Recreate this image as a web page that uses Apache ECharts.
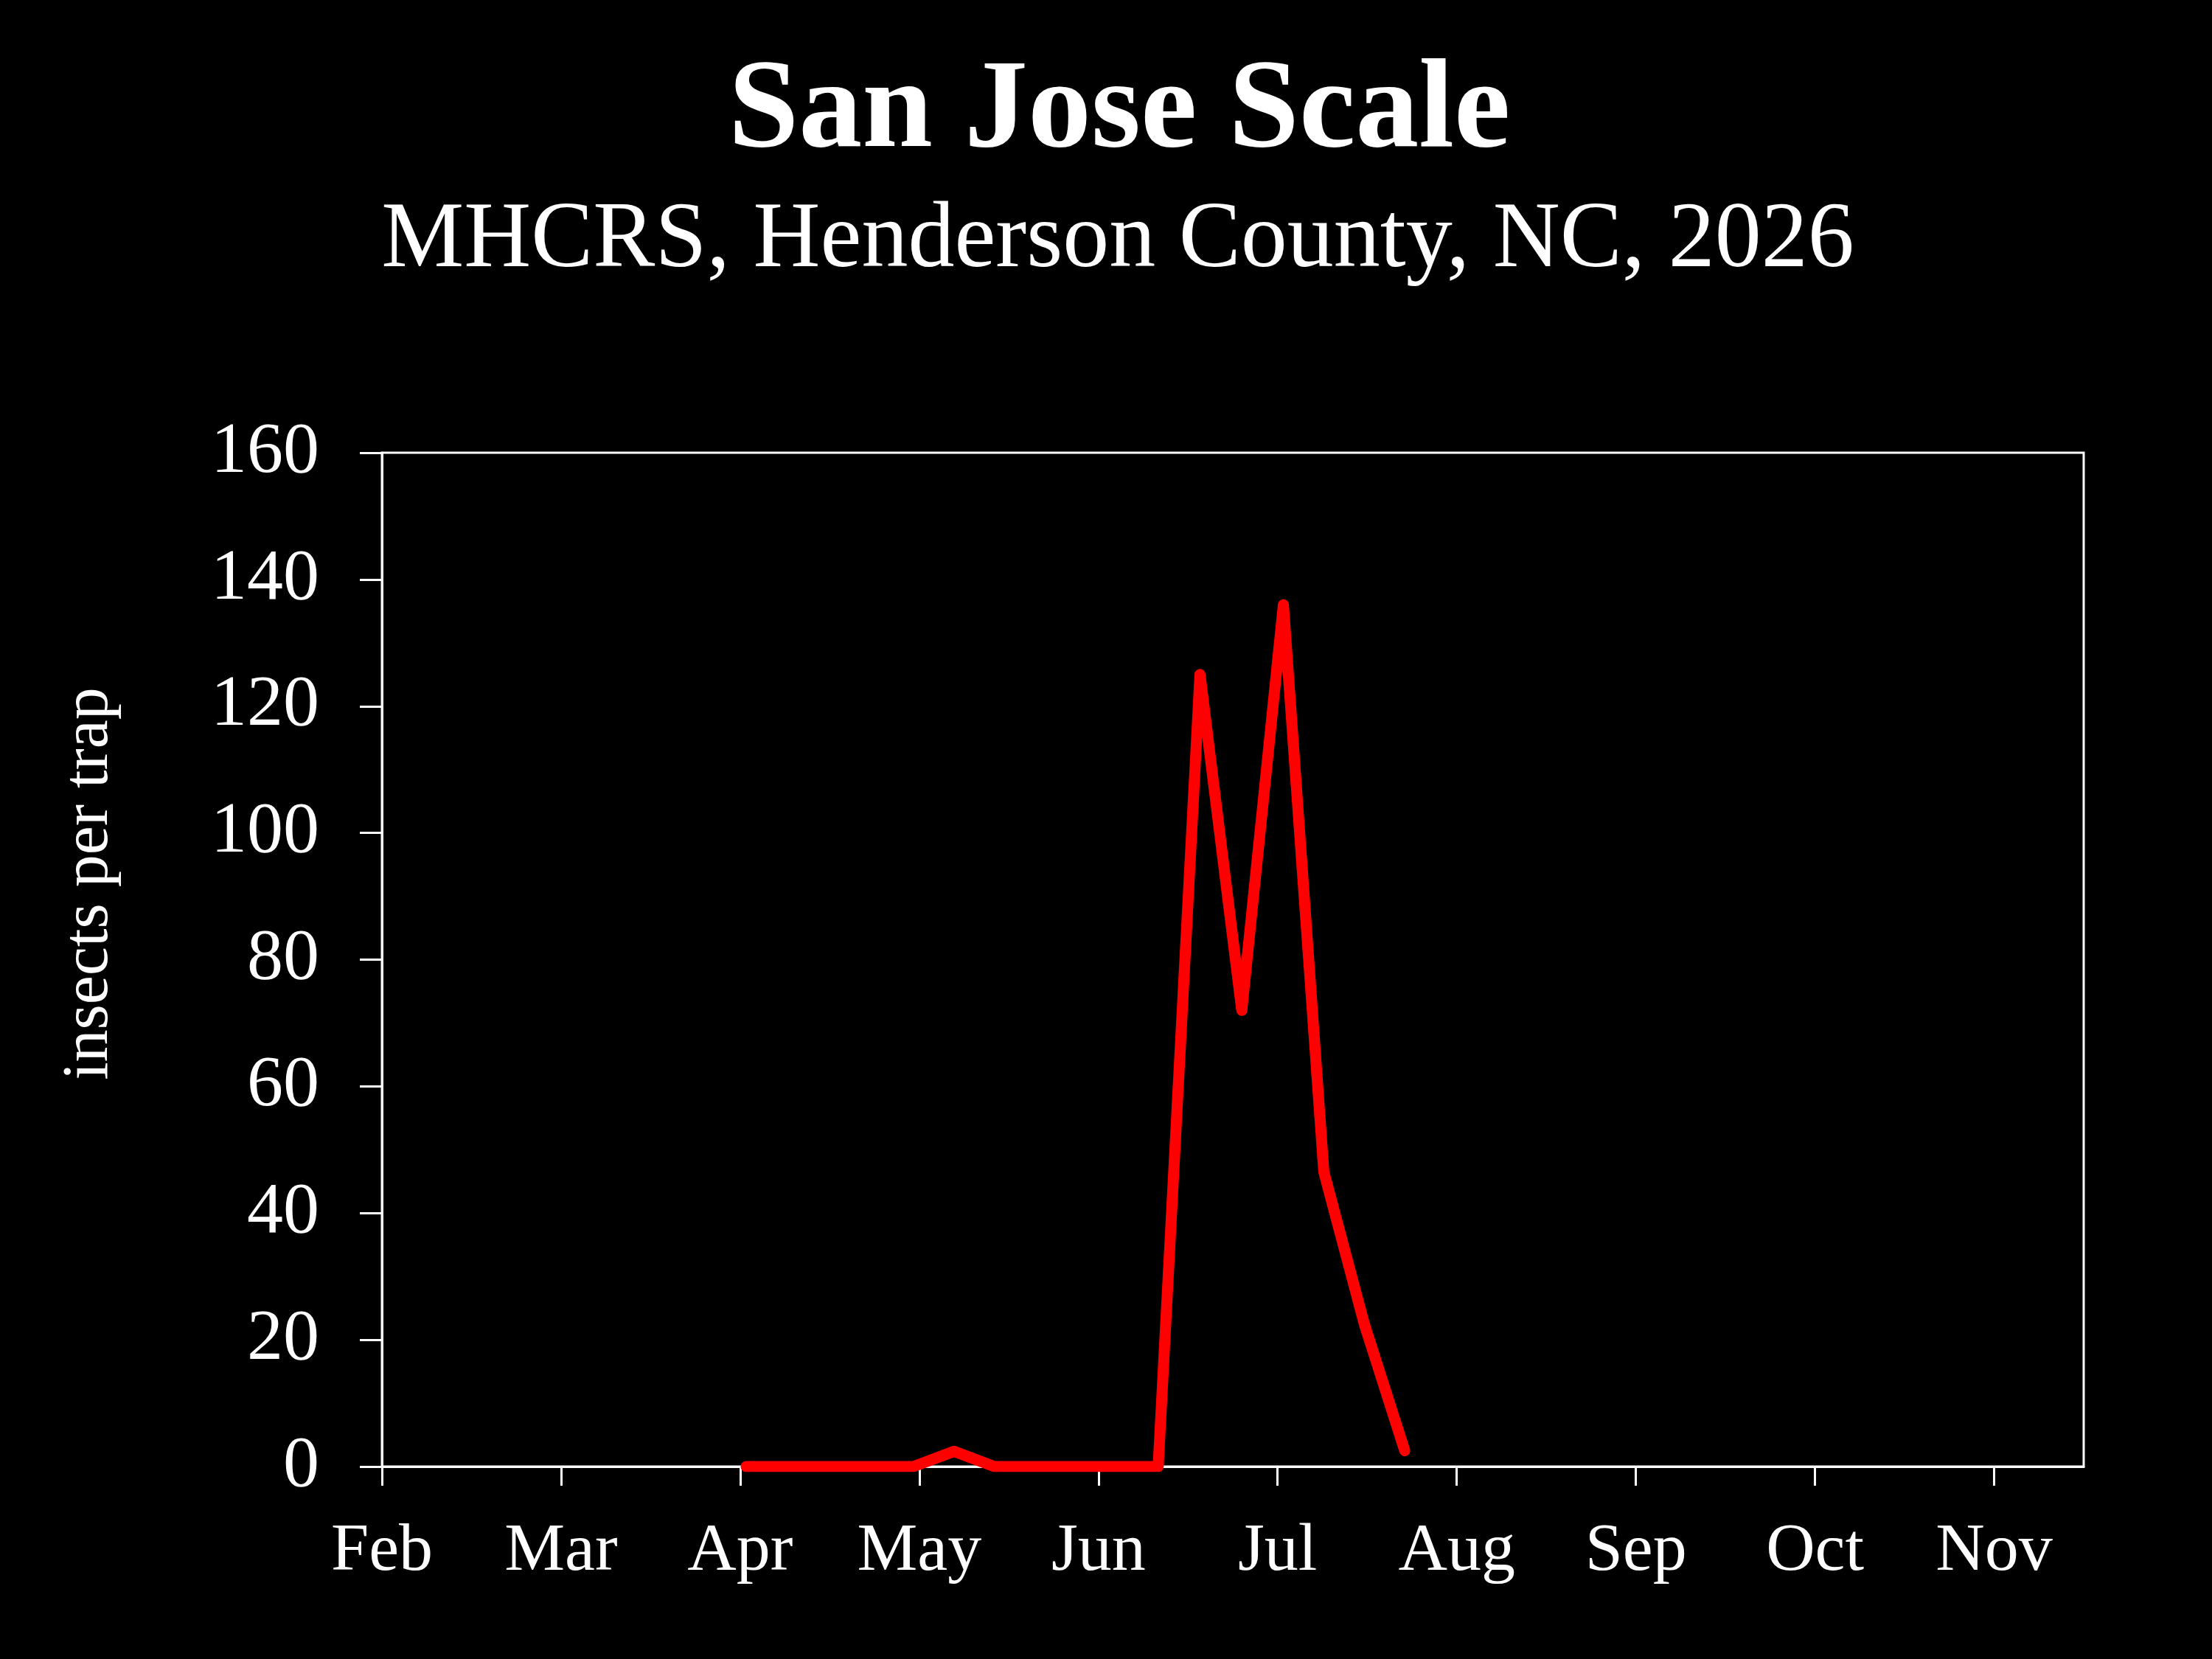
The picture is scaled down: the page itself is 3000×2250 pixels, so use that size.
<!DOCTYPE html>
<html>
<head>
<meta charset="utf-8">
<script src="https://cdn.jsdelivr.net/npm/echarts@6/dist/echarts.min.js"></script>
<style>
html,body{margin:0;padding:0;background:#000;}
#chart{width:3000px;height:2250px;}
</style>
</head>
<body>
<div id="chart"></div>
<script>
const titleText = "San Jose Scale";
const subtitleText = "MHCRS, Henderson County, NC, 2026";
const yAxisName = "insects per trap";
const monthLabels = ["Feb","Mar","Apr","May","Jun","Jul","Aug","Sep","Oct","Nov"];
const yTicks = [0,20,40,60,80,100,120,140,160];
const sampleDates = ["2026-04-02","2026-04-09","2026-04-16","2026-04-23","2026-04-30",
  "2026-05-07","2026-05-14","2026-05-21","2026-05-28","2026-06-04","2026-06-11",
  "2026-06-18","2026-06-25","2026-07-02","2026-07-09","2026-07-16","2026-07-23"];
const insectsPerTrap = [0,0,0,0,0,2.4,0,0,0,0,0,125,72,136,46.5,22.5,2.5];

// month-equal axis: position = months since Feb 1 + fraction of month
function monthPos(s){
  const [y,m,d] = s.split("-").map(Number);
  const dim = new Date(y, m, 0).getDate();
  return (m - 2) + (d - 1) / dim;
}
const seriesData = sampleDates.map((s,i)=>[monthPos(s), insectsPerTrap[i]]);
const monthTickValues = monthLabels.map((_,i)=>i);

const FONT = "'Liberation Serif', 'DejaVu Serif', serif";
const chart = echarts.init(document.getElementById('chart'), null, {renderer:'canvas'});
chart.setOption({
  backgroundColor: '#000',
  animation: false,
  title: [
    {text: titleText, left: 1513, textAlign: 'center', top: 63,
     textStyle:{color:'#fff', fontFamily: FONT, fontWeight:'bold', fontSize:172, lineHeight:172}},
    {text: subtitleText, left: 1511, textAlign: 'center', top: 260,
     textStyle:{color:'#fff', fontFamily: FONT, fontWeight:'normal', fontSize:126, lineHeight:126}}
  ],
  grid: {left:518, right:174, top:614, bottom:261, show:true, borderColor:'#fff', borderWidth:3, backgroundColor:'transparent'},
  xAxis: {
    type:'value', min:0, max:9.5, interval:1,
    axisLine:{show:true, onZero:false, lineStyle:{color:'#fff', width:3}},
    axisTick:{show:true, inside:false, length:26, customValues: monthTickValues, lineStyle:{color:'#fff', width:3}},
    axisLabel:{show:true, customValues: monthTickValues, margin:70, color:'#fff', fontFamily:FONT, fontSize:92,
      formatter: v => monthLabels[Math.round(v)] || ''},
    splitLine:{show:false}
  },
  yAxis: {
    type:'value', min:0, max:160, interval:20,
    name: yAxisName, nameLocation:'middle', nameGap:352,
    nameTextStyle:{color:'#fff', fontFamily:FONT, fontSize:88, padding:[0,0,0,206]},
    axisLine:{show:true, lineStyle:{color:'#fff', width:3}},
    axisTick:{show:true, inside:false, length:30, lineStyle:{color:'#fff', width:3}},
    axisLabel:{show:true, margin:85, color:'#fff', fontFamily:FONT, fontSize:98,
      formatter: v => yTicks.includes(v) ? String(v) : ''},
    splitLine:{show:false}
  },
  series: [{
    type:'line', data: seriesData, showSymbol:false, symbol:'none',
    lineStyle:{color:'#ff0000', width:15, cap:'round', join:'round'},
    clip:true
  }]
});
</script>
</body>
</html>
